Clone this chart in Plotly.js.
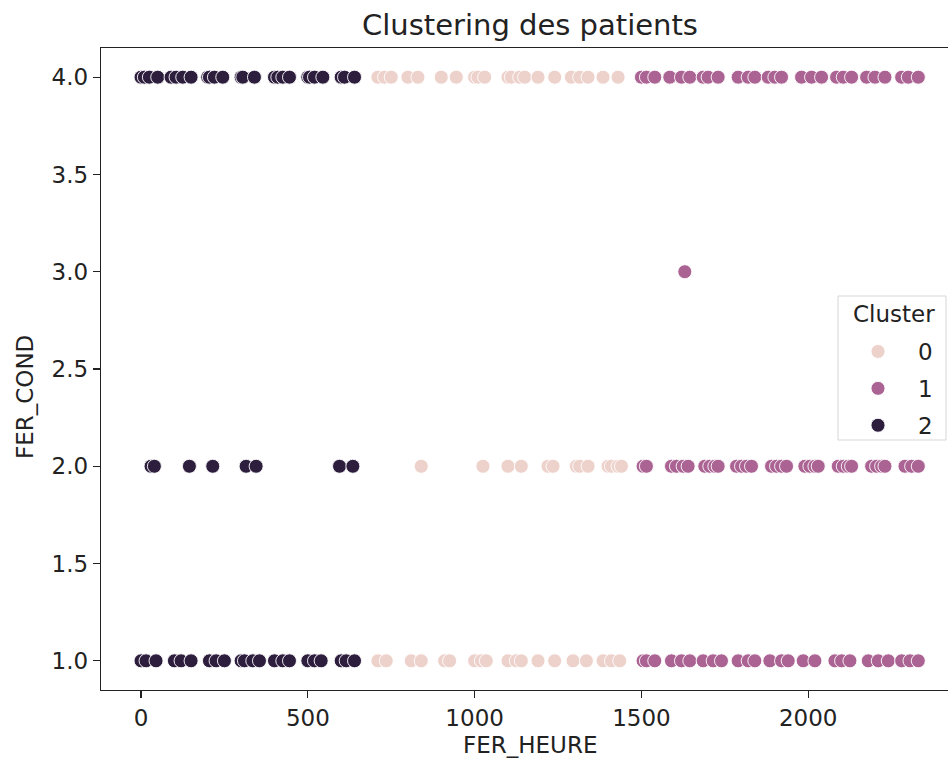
<!DOCTYPE html>
<html>
<head>
<meta charset="utf-8">
<script src="https://cdn.plot.ly/plotly-3.0.1.min.js"></script>
<style>html,body{margin:0;padding:0;background:#fff;}#chart{width:948px;height:763px;}</style>
</head>
<body>
<div id="chart"></div>
<script>
// FER_HEURE values per cluster and FER_COND level
const clusters = ["0", "1", "2"];
const colors = ["#edd1cb", "#ab6393", "#2d1e3e"];

// Cluster 0
const c0_cond4 = [710, 730, 750, 800, 830, 900, 945, 1000, 1010, 1030, 1100, 1110, 1135, 1150, 1190, 1240, 1290, 1315, 1340, 1385, 1430];
const c0_cond2 = [840, 1025, 1100, 1140, 1220, 1235, 1305, 1315, 1340, 1400, 1410, 1430, 1440];
const c0_cond1 = [710, 735, 810, 840, 910, 925, 1000, 1020, 1035, 1100, 1125, 1140, 1190, 1240, 1295, 1335, 1385, 1410, 1435];

// Cluster 1
const c1_cond4 = [1500, 1515, 1540, 1585, 1620, 1645, 1685, 1700, 1730, 1790, 1820, 1840, 1880, 1900, 1920, 1980, 2010, 2040, 2085, 2105, 2130, 2175, 2200, 2230, 2280, 2300, 2330];
const c1_cond3 = [1630];
const c1_cond2 = [1505, 1515, 1590, 1605, 1625, 1640, 1690, 1705, 1720, 1730, 1785, 1800, 1815, 1830, 1890, 1905, 1920, 1935, 1990, 2005, 2020, 2030, 2090, 2105, 2120, 2130, 2190, 2205, 2220, 2230, 2290, 2310, 2330];
const c1_cond1 = [1505, 1515, 1540, 1590, 1620, 1645, 1685, 1715, 1740, 1790, 1820, 1840, 1885, 1920, 1940, 1985, 2020, 2080, 2100, 2125, 2180, 2210, 2240, 2280, 2305, 2330];

// Cluster 2
const c2_cond4 = [0, 10, 25, 50, 90, 105, 125, 150, 200, 205, 220, 245, 300, 305, 340, 400, 410, 425, 445, 500, 505, 520, 545, 600, 610, 640];
const c2_cond2 = [30, 40, 145, 215, 315, 345, 595, 635];
const c2_cond1 = [0, 15, 45, 100, 120, 150, 205, 225, 250, 300, 310, 335, 355, 400, 425, 445, 500, 520, 540, 600, 615, 640];

const xTicks = [0, 500, 1000, 1500, 2000];
const yTicks = [1.0, 1.5, 2.0, 2.5, 3.0, 3.5, 4.0];

const groups = [
  [[c0_cond4, 4], [c0_cond2, 2], [c0_cond1, 1]],
  [[c1_cond4, 4], [c1_cond3, 3], [c1_cond2, 2], [c1_cond1, 1]],
  [[c2_cond4, 4], [c2_cond2, 2], [c2_cond1, 1]]
];

const traces = groups.map((g, i) => {
  const xs = [], ys = [];
  g.forEach(([arr, lvl]) => arr.forEach(v => { xs.push(v); ys.push(lvl); }));
  return {
    type: "scatter", mode: "markers", name: clusters[i], x: xs, y: ys,
    legendgroup: "g" + i,
    marker: {color: colors[i], size: 14, line: {color: "#ffffff", width: 0.9}}
  };
});

const font = {family: "DejaVu Sans, sans-serif", color: "#222", size: 23};

// legend frame geometry (pixels)
const W = 847, H = 642, L = 101, T = 48;
const px = v => (v - L) / W, py = v => 1 - (v - T) / H;

const layout = {
  width: 948, height: 763,
  margin: {l: L, r: 0, t: T, b: 73, pad: 0},
  paper_bgcolor: "#ffffff", plot_bgcolor: "#ffffff",
  font: font,
  title: {text: "Clustering des patients", font: {family: "DejaVu Sans, sans-serif", size: 29, color: "#222"},
          x: px(530), xref: "paper", xanchor: "center", y: 1 - 25/763, yref: "container", yanchor: "middle"},
  xaxis: {
    range: [-120, 2419], tickvals: xTicks, ticktext: xTicks.map(String),
    showgrid: false, zeroline: false, showline: true, mirror: true, linecolor: "#222", linewidth: 1.3,
    ticks: "outside", ticklen: 7, tickwidth: 1.2, tickcolor: "#222", tickfont: font
  },
  yaxis: {
    range: [0.85, 4.15], tickvals: yTicks, ticktext: yTicks.map(v => v.toFixed(1)),
    showgrid: false, zeroline: false, showline: true, mirror: false, linecolor: "#222", linewidth: 1.3,
    ticks: "outside", ticklen: 7, tickwidth: 1.2, tickcolor: "#222", tickfont: font
  },
  shapes: [
    {type: "rect", xref: "paper", yref: "paper", x0: px(838), x1: px(946), y0: py(296), y1: py(440),
     fillcolor: "rgba(255,255,255,0.8)", line: {color: "#d6d6d6", width: 1}, layer: "above"}
  ],
  annotations: [
    {text: "FER_COND", xref: "paper", yref: "paper", x: px(25), y: py(397),
     xanchor: "center", yanchor: "middle", textangle: -90, showarrow: false, font: font},
    {text: "FER_HEURE", xref: "paper", yref: "paper", x: px(530), y: py(745),
     xanchor: "center", yanchor: "middle", showarrow: false, font: font},
    {text: "Cluster", xref: "paper", yref: "paper", x: px(894), y: py(314),
     xanchor: "center", yanchor: "middle", showarrow: false, font: font}
  ],
  legend: {
    x: px(838), y: py(330), xanchor: "left", yanchor: "top",
    bgcolor: "rgba(0,0,0,0)", borderwidth: 0,
    font: font, itemsizing: "trace", itemwidth: 70, tracegroupgap: 4
  },
  showlegend: true
};

Plotly.newPlot("chart", traces, layout, {displayModeBar: false, staticPlot: true});
</script>
</body>
</html>
